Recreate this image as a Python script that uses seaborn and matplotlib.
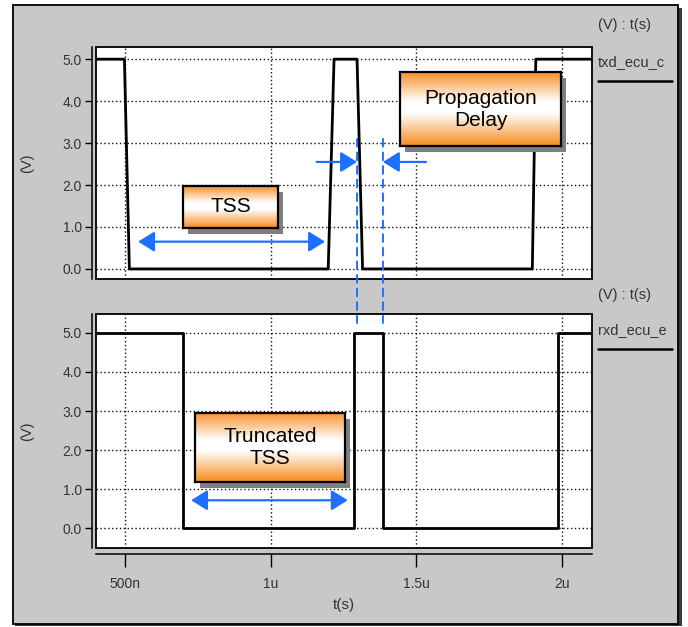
import numpy as np
import pandas as pd
import matplotlib
matplotlib.use("Agg")
import matplotlib.pyplot as plt
from matplotlib.patches import Rectangle, ConnectionPatch
from matplotlib.lines import Line2D
from matplotlib.colors import LinearSegmentedColormap
import seaborn as sns

# Waveforms: time in microseconds, level in volts
txd_t = [0.40, 0.498, 0.515, 1.198, 1.218, 1.297, 1.316, 1.899, 1.911, 2.11]
txd_v = [5.0, 5.0, 0.0, 0.0, 5.0, 5.0, 0.0, 0.0, 5.0, 5.0]
rxd_t = [0.40, 0.700, 0.700, 1.286, 1.286, 1.386, 1.386, 1.986, 1.986, 2.11]
rxd_v = [5.0, 5.0, 0.0, 0.0, 5.0, 5.0, 0.0, 0.0, 5.0, 5.0]

signal_names = ["txd_ecu_c", "rxd_ecu_e"]
x_ticks = [0.5, 1.0, 1.5, 2.0]
x_tick_labels = ["500n", "1u", "1.5u", "2u"]
y_ticks = [0.0, 1.0, 2.0, 3.0, 4.0, 5.0]

# Annotation spans (microseconds) and heights (volts)
tss_span = (0.545, 1.187)
tss_level = 0.65
prop_arrow_left = (1.158, 1.297)
prop_arrow_right = (1.534, 1.386)
prop_level = 2.55
trunc_span = (0.727, 1.265)
trunc_level = 0.72

BLUE = "#1f6fff"
W, H = 688, 627

sns.set_style("white")
plt.rcParams["font.family"] = ["Liberation Sans", "DejaVu Sans"]

fig = plt.figure(figsize=(W / 100, H / 100), dpi=100)
fig.patch.set_facecolor("white")


def fx(px):
    return px / W


def fy(py):
    return 1 - py / H


def rect_px(x0, y0, x1, y1):
    return [fx(x0), fy(y1), fx(x1) - fx(x0), fy(y0) - fy(y1)]


# Grey panel behind both traces
fig.add_artist(Rectangle((fx(15), fy(626)), fx(667), fy(8) - fy(626),
                         transform=fig.transFigure, facecolor="#3a3a3a",
                         edgecolor="none", zorder=-2))
fig.add_artist(Rectangle((fx(13), fy(624)), fx(665), fy(5) - fy(624),
                         transform=fig.transFigure, facecolor="#c8c8c8",
                         edgecolor="black", lw=1.3, zorder=-1))

ax_top = fig.add_axes(rect_px(96, 47, 592, 279))
ax_bot = fig.add_axes(rect_px(96, 314, 592, 548))

xlim = (0.4004, 2.104)
tick_color = "#333333"

for ax, t, v, ylim in [(ax_top, txd_t, txd_v, (-0.24, 5.29)),
                       (ax_bot, rxd_t, rxd_v, (-0.5, 5.48))]:
    df = pd.DataFrame({"t": t, "v": v})
    sns.lineplot(data=df, x="t", y="v", sort=False, estimator=None,
                 color="black", lw=2.0, ax=ax, zorder=3)
    ax.set_facecolor("white")
    ax.set_xlim(*xlim)
    ax.set_ylim(*ylim)
    ax.set_xticks(x_ticks)
    ax.set_yticks(y_ticks)
    ax.set_yticklabels([f"{y:.1f}" for y in y_ticks])
    ax.grid(True, color="#111111", linestyle=(0, (1.0, 1.8)), lw=1.0)
    for s in ["top", "right"]:
        ax.spines[s].set_visible(False)
    ax.spines["left"].set_position(("outward", 3))
    ax.spines["left"].set_linewidth(1.1)
    ax.spines["left"].set_color("black")
    ax.tick_params(axis="y", direction="out", length=5, width=1.0,
                   color="black", labelsize=10, labelcolor=tick_color, pad=2,
                   left=True)
    ax.set_ylabel("(V)", fontsize=10.5, color=tick_color)
    ax.yaxis.set_label_coords(-0.125, 0.5)
    ax.add_patch(Rectangle((0, 0), 1, 1, transform=ax.transAxes, fill=False,
                           edgecolor="black", lw=1.3, clip_on=False, zorder=5))

# Upper trace has no time axis of its own
ax_top.spines["bottom"].set_visible(False)
ax_top.tick_params(axis="x", length=0, labelbottom=False)
ax_top.set_xlabel("")

ax_bot.spines["bottom"].set_position(("outward", 4))
ax_bot.spines["bottom"].set_linewidth(1.1)
ax_bot.spines["bottom"].set_color("black")
ax_bot.set_xticklabels(x_tick_labels)
ax_bot.tick_params(axis="x", direction="out", length=9, width=1.0,
                   color="black", labelsize=10, labelcolor=tick_color, pad=8,
                   bottom=True)
ax_bot.set_xlabel("t(s)", fontsize=11, color=tick_color, labelpad=5)

# Signal names and legend strokes
for name, ty, ny, ly in [(signal_names[0], 25, 62, 81),
                         (signal_names[1], 295, 330, 349)]:
    fig.text(fx(598), fy(ty), "(V) : t(s)", fontsize=10.5, color=tick_color,
             ha="left", va="center")
    fig.text(fx(598), fy(ny), name, fontsize=10.5, color=tick_color,
             ha="left", va="center")
    fig.add_artist(Line2D([fx(598), fx(672)], [fy(ly), fy(ly)], color="black",
                          lw=1.8, transform=fig.transFigure))

# Edge markers linking the two traces
for x_edge in [txd_t[5], rxd_t[5]]:
    con = ConnectionPatch(xyA=(x_edge, 3.1), coordsA=ax_top.transData,
                          xyB=(x_edge, 5.25), coordsB=ax_bot.transData,
                          color=BLUE, lw=1.4, linestyle=(0, (4, 3)), zorder=6)
    fig.add_artist(con)

# Arrows
arrow_kw = dict(color=BLUE, lw=1.6, shrinkA=0, shrinkB=0, mutation_scale=22)
ax_top.annotate("", xy=(tss_span[1], tss_level), xytext=(tss_span[0], tss_level),
                arrowprops=dict(arrowstyle="<|-|>,head_length=0.45,head_width=0.28",
                                **arrow_kw), zorder=6)
for a, b in [prop_arrow_left, prop_arrow_right]:
    ax_top.annotate("", xy=(b, prop_level), xytext=(a, prop_level),
                    arrowprops=dict(arrowstyle="-|>,head_length=0.45,head_width=0.28",
                                    **arrow_kw), zorder=6)
ax_bot.annotate("", xy=(trunc_span[1], trunc_level),
                xytext=(trunc_span[0], trunc_level),
                arrowprops=dict(arrowstyle="<|-|>,head_length=0.45,head_width=0.28",
                                **arrow_kw), zorder=6)

# Orange gradient labels
grad_cmap = LinearSegmentedColormap.from_list(
    "box", [(0.0, "#f7912a"), (0.40, "#ffffff"), (0.55, "#ffffff"),
            (1.0, "#f68b1c")])
grad = grad_cmap(np.linspace(0, 1, 256))[:, None, :3]


def label_box(x0, y0, x1, y1, text):
    fig.add_artist(Rectangle((fx(x0 + 5), fy(y1 + 6)), fx(x1) - fx(x0),
                             fy(y0) - fy(y1), transform=fig.transFigure,
                             facecolor="#7f7f7f", edgecolor="none", zorder=7))
    bx = fig.add_axes(rect_px(x0, y0, x1, y1), zorder=8)
    bx.imshow(grad, aspect="auto", extent=[0, 1, 0, 1])
    bx.set_xticks([])
    bx.set_yticks([])
    for s in bx.spines.values():
        s.set_linewidth(1.6)
        s.set_color("black")
    bx.text(0.5, 0.5, text, transform=bx.transAxes, ha="center", va="center",
            fontsize=15, color="black", linespacing=1.2)


label_box(183, 186, 278, 228, "TSS")
label_box(400, 72, 561, 146, "Propagation\nDelay")
label_box(195, 413, 345, 482, "Truncated\nTSS")

fig.savefig("out.png", dpi=100)
